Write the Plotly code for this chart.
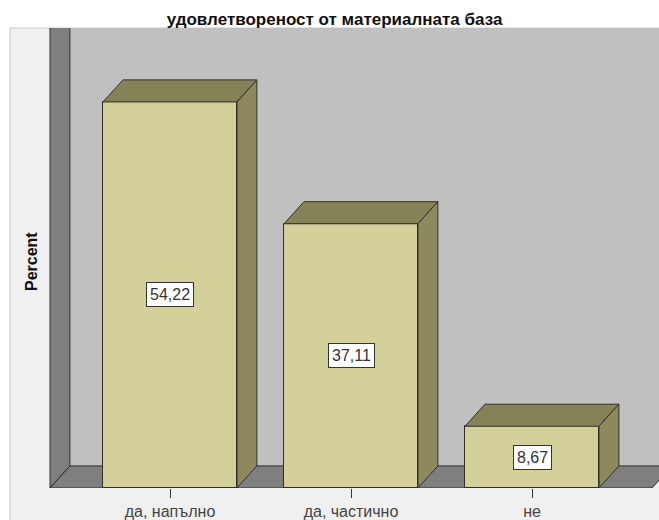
import plotly.graph_objects as go

# Satisfaction with the facilities (percent of respondents)
categories = ["да, напълно", "да, частично", "не"]
percent = [54.22, 37.11, 8.67]
label_texts = ["54,22", "37,11", "8,67"]

# 3D styling constants (category / percent units)
BAR_WIDTH = 0.74
DEPTH_X = 0.11
DEPTH_Y = 3.1
WALL_MARGIN = 0.663
WALL_TOP = 80

FRONT = "#d4d099"
TOP = "#868258"
SIDE = "#8d895d"
EDGE = "#2e2e2e"
WALL = "#7f7f7f"
BACK = "#c0c0c0"

x_pos = list(range(len(categories)))

fig = go.Figure()
fig.add_trace(go.Bar(
    x=x_pos, y=percent, width=BAR_WIDTH,
    marker=dict(color=FRONT, line=dict(color=EDGE, width=1)),
    hoverinfo="skip",
))

shapes = []
xl = -WALL_MARGIN
xr = len(categories) - 1 + WALL_MARGIN

# outer light frame
shapes.append(dict(type="rect", xref="paper", yref="paper",
                   x0=0.0, x1=1.05, y0=-0.2, y1=1.0,
                   fillcolor="#f0f0f0", line=dict(color="#c8c8c8", width=1),
                   layer="below"))
# back wall
shapes.append(dict(type="rect", xref="x", yref="y",
                   x0=xl + DEPTH_X, x1=xr + 1, y0=DEPTH_Y, y1=WALL_TOP,
                   fillcolor=BACK, line=dict(width=0), layer="below"))
# left wall
shapes.append(dict(type="path", xref="x", yref="y",
                   path=f"M {xl},0 L {xl + DEPTH_X},{DEPTH_Y} L {xl + DEPTH_X},{WALL_TOP} L {xl},{WALL_TOP} Z",
                   fillcolor=WALL, line=dict(color=EDGE, width=1), layer="below"))
# floor
shapes.append(dict(type="path", xref="x", yref="y",
                   path=f"M {xl},0 L {xr},0 L {xr + DEPTH_X},{DEPTH_Y} L {xl + DEPTH_X},{DEPTH_Y} Z",
                   fillcolor=WALL, line=dict(color=EDGE, width=1), layer="below"))

# top and side faces of each bar
for xc, v in zip(x_pos, percent):
    x0 = xc - BAR_WIDTH / 2
    x1 = xc + BAR_WIDTH / 2
    shapes.append(dict(type="path", xref="x", yref="y",
                       path=f"M {x0},{v} L {x0 + DEPTH_X},{v + DEPTH_Y} L {x1 + DEPTH_X},{v + DEPTH_Y} L {x1},{v} Z",
                       fillcolor=TOP, line=dict(color=EDGE, width=1), layer="above"))
    shapes.append(dict(type="path", xref="x", yref="y",
                       path=f"M {x1},0 L {x1 + DEPTH_X},{DEPTH_Y} L {x1 + DEPTH_X},{v + DEPTH_Y} L {x1},{v} Z",
                       fillcolor=SIDE, line=dict(color=EDGE, width=1), layer="above"))

annotations = []
for xc, v, t in zip(x_pos, percent, label_texts):
    annotations.append(dict(x=xc, y=v / 2, xref="x", yref="y", text=t,
                            showarrow=False, bgcolor="white",
                            bordercolor="#333333", borderwidth=1, borderpad=3,
                            font=dict(family="Arial", size=16, color="#333333")))
annotations.append(dict(x=21 / 649, y=(488 - 262) / 460, xref="paper", yref="paper",
                        xanchor="center", yanchor="middle",
                        text="Percent", textangle=-90, showarrow=False,
                        font=dict(family="Arial", size=16, color="#111111", weight="bold")))

px_per_cat = 181
fig.update_layout(
    width=659, height=520,
    margin=dict(l=10, r=0, t=28, b=32),
    paper_bgcolor="white",
    plot_bgcolor="rgba(0,0,0,0)",
    showlegend=False,
    title=dict(text="удовлетвореност от материалната база",
               font=dict(family="Arial", size=17, color="#111111", weight="bold"),
               x=0.5, xref="paper", xanchor="center",
               y=1 - 19 / 520, yref="container", yanchor="middle"),
    shapes=shapes,
    annotations=annotations,
    bargap=0,
)
fig.update_xaxes(range=[(10 - 170) / px_per_cat, (659 - 170) / px_per_cat],
                 tickvals=x_pos, ticktext=categories,
                 ticks="outside", ticklen=9, tickcolor="#333333", tickwidth=1,
                 tickfont=dict(family="Arial", size=16, color="#444444"),
                 showgrid=False, zeroline=False, showline=False, fixedrange=True)
fig.update_yaxes(range=[0, (488 - 28) / 7.12],
                 showticklabels=False, showgrid=False, zeroline=False,
                 showline=False, fixedrange=True)

fig.write_html("out.html")
